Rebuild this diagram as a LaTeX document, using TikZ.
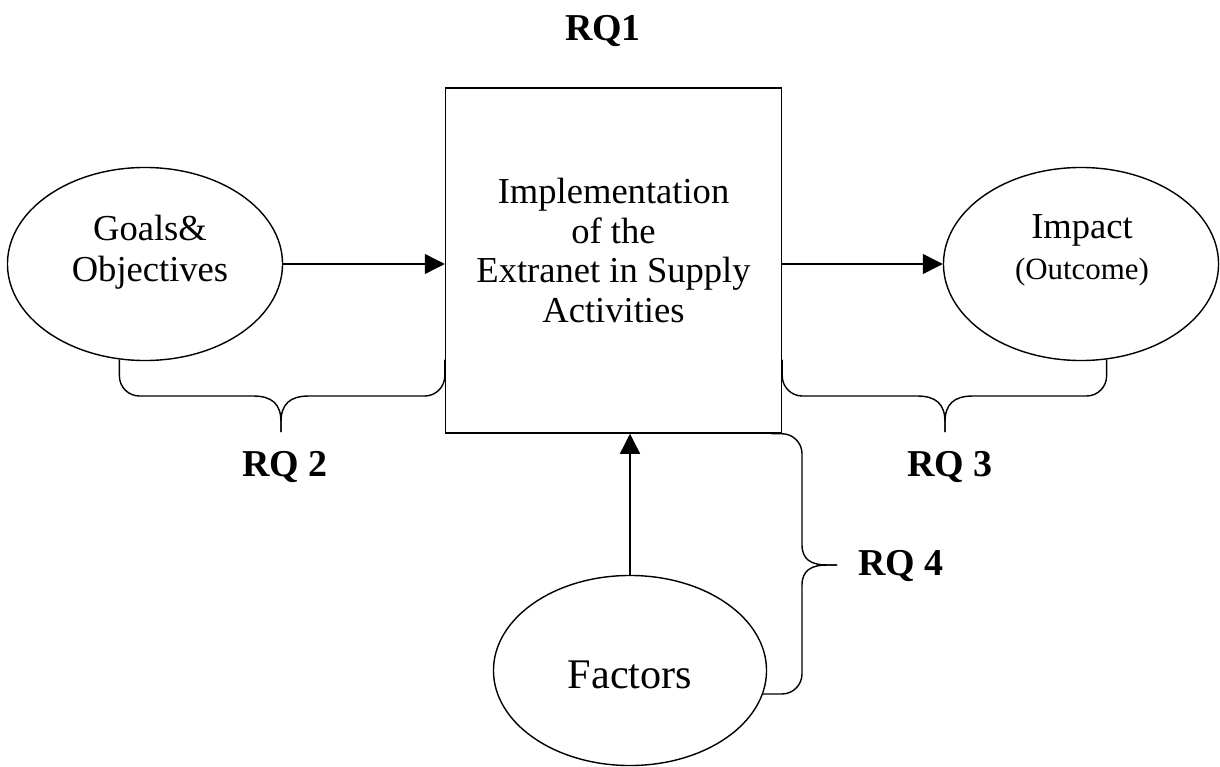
\documentclass[tikz,border=0pt]{standalone}
\usepackage{fontspec}
\setmainfont{Liberation Serif}
\usetikzlibrary{positioning,arrows.meta,shapes.geometric,calc}
\tikzset{
  bubble/.style={
    draw,
    ellipse,
    line width=1pt,
    minimum width=6.875cm,
    minimum height=4.825cm,
    inner sep=0pt
  },
  stage/.style={
    draw,
    line width=1pt,
    minimum width=8.4cm,
    minimum height=8.625cm,
    inner sep=0pt
  },
  caption/.style={
    align=center,
    inner sep=0pt,
    font=\fontsize{26}{29}\selectfont
  },
  rq/.style={
    inner sep=0pt,
    font=\fontsize{27}{30}\selectfont\bfseries
  },
  link/.style={
    -{Triangle[length=5mm,width=5mm]},
    line width=1pt
  },
  brace/.style={
    line width=1pt
  }
}

\begin{document}
\begin{tikzpicture}[x=0.025cm,y=-0.025cm]
\useasboundingbox (0,0) rectangle (1220,767);

\node[stage] (box) at (613.5,260.5) {};
\node[bubble] (goals) at (145,264) {};
\node[bubble] (impact) at (1081,264) {};
\node[bubble, minimum width=6.825cm, minimum height=4.75cm] (factors) at (630,670.5) {};

\node[caption, font=\fontsize{26}{28}\selectfont] (boxtext) at ($(box)+(0,-10)$) {Implementation\\of the\\Extranet in Supply\\Activities};
\node[caption] (goalstext) at ($(goals)+(5,-12)$) {Goals\&\\Objectives};
\node[caption] (impacttext) at ($(impact)+(1,-14)$) {Impact\\\fontsize{22}{26}\selectfont(Outcome)};
\node[caption, font=\fontsize{30}{34}\selectfont] (factorstext) at ($(factors)+(0,4)$) {Factors};

\coordinate (tip2) at (281,432);
\coordinate (tip3) at (945,432);
\coordinate (tip4) at (837,565);
\coordinate (c2a) at (goals.255 |- tip2);
\coordinate (c2b) at (box.west |- tip2);
\coordinate (c3a) at (box.east |- tip3);
\coordinate (c3b) at (impact.285 |- tip3);
\coordinate (c4a) at (tip4 |- box.south);
\coordinate (c4b) at (tip4 |- factors.-10);

\node[rq] (rq1) at (603,31) {RQ1};
\node[rq] (rq2) at (285,467) {RQ 2};
\node[rq] (rq3) at (950,467) {RQ 3};
\node[rq] (rq4) at (901,566) {RQ 4};

\draw[link] (goals.east) -- (goals.east -| box.west);
\draw[link] (box.east |- impact.west) -- (impact.west);
\draw[link] (factors.north) -- (factors.north |- box.south);

% RQ 2
\draw[brace] (goals.255) -- ($(c2a)+(0,-56)$) .. controls +(0,11) and +(-11,0) .. ($(c2a)+(20,-36)$) -- ($(tip2)+(-28,-36)$) .. controls +(19,0) and +(0,-18) .. ($(tip2)+(0,-10)$) -- (tip2);
\draw[brace] (tip2) -- ($(tip2)+(0,-10)$) .. controls +(0,-18) and +(-19,0) .. ($(tip2)+(28,-36)$) -- ($(c2b)+(-20,-36)$) .. controls +(11,0) and +(0,11) .. ($(c2b)+(0,-56)$) -- (goals.255 -| box.west);
% RQ 3
\draw[brace] (box.east |- impact.285) -- ($(c3a)+(0,-56)$) .. controls +(0,11) and +(-11,0) .. ($(c3a)+(20,-36)$) -- ($(tip3)+(-28,-36)$) .. controls +(19,0) and +(0,-18) .. ($(tip3)+(0,-10)$) -- (tip3);
\draw[brace] (tip3) -- ($(tip3)+(0,-10)$) .. controls +(0,-18) and +(-19,0) .. ($(tip3)+(28,-36)$) -- ($(c3b)+(-20,-36)$) .. controls +(11,0) and +(0,11) .. ($(c3b)+(0,-56)$) -- (impact.285);
% RQ 4
\draw[brace] ($(box.south east)+(-11,0)$) -- ($(c4a)+(-55,0)$) .. controls +(11,0) and +(0,-11) .. ($(c4a)+(-35,20)$) -- ($(tip4)+(-35,-20)$) .. controls +(0,15) and +(-15,0) .. ($(tip4)+(-10,0)$) -- (tip4);
\draw[brace] (tip4) -- ($(tip4)+(-10,0)$) .. controls +(-15,0) and +(0,-15) .. ($(tip4)+(-35,20)$) -- ($(c4b)+(-35,-20)$) .. controls +(0,11) and +(11,0) .. ($(c4b)+(-55,0)$) -- (factors.-10);

\end{tikzpicture}
\end{document}
